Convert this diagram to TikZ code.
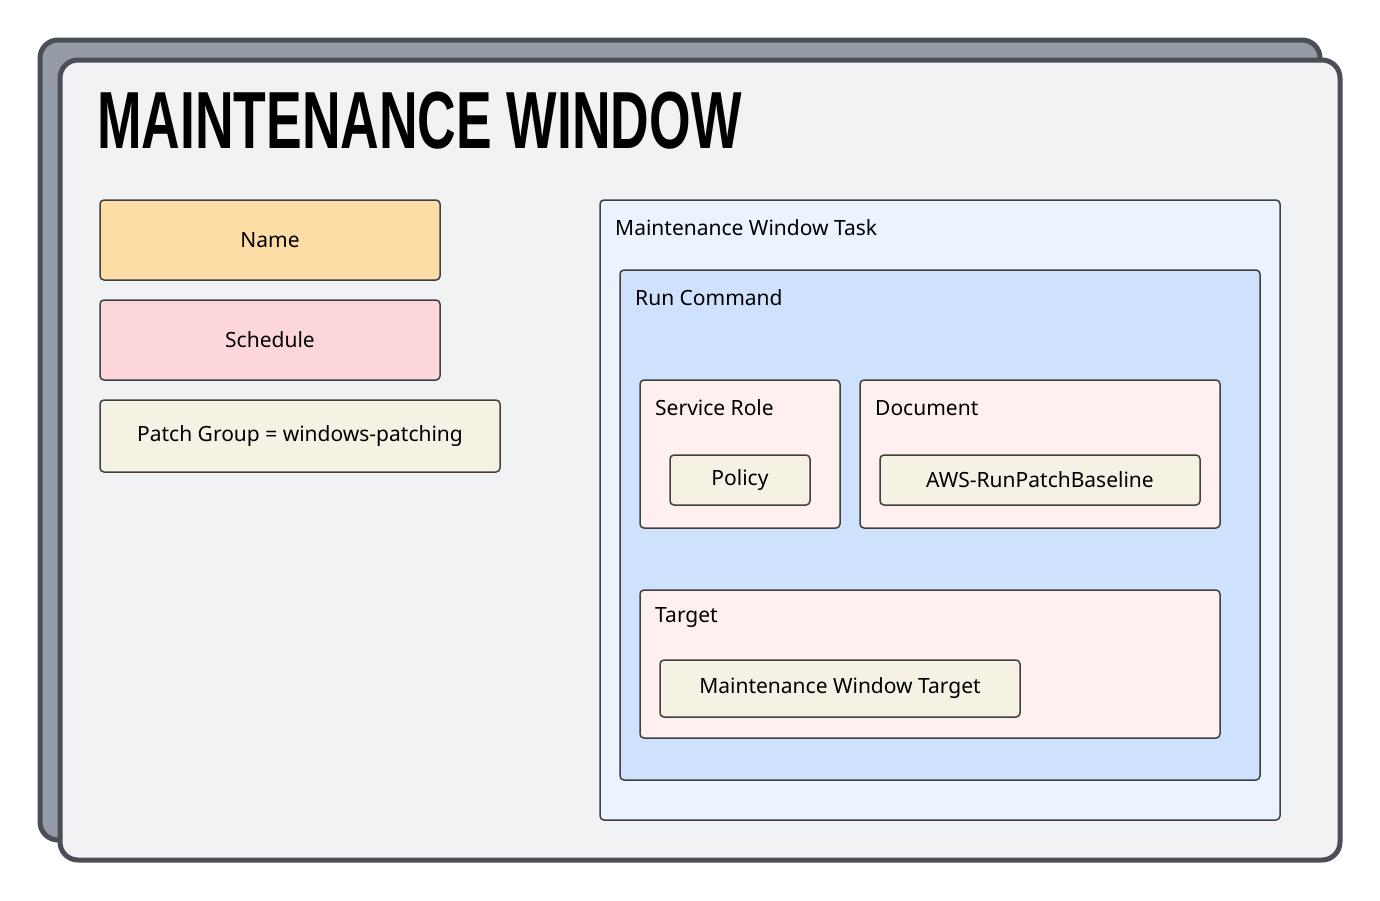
\documentclass[tikz,border=0pt]{standalone}
\usepackage{fontspec}
\setmainfont{Noto Sans}
\newfontfamily\titlefont{Liberation Sans}
\begin{document}
\begin{tikzpicture}[x=1pt,y=-1pt,
  bx/.style={draw=black!75,line width=1.5pt,rounded corners=4pt},
  lbl/.style={anchor=west,font=\fontsize{21}{24}\selectfont,inner sep=0pt},
  ctr/.style={font=\fontsize{21}{24}\selectfont,inner sep=0pt}]
\definecolor{cardback}{HTML}{959BA4}
\definecolor{cardedge}{HTML}{4A4F57}
\definecolor{cardfront}{HTML}{F1F2F4}
\definecolor{cname}{HTML}{FDDCA5}
\definecolor{csched}{HTML}{FDD6DA}
\definecolor{cbeige}{HTML}{F5F2E3}
\definecolor{ctask}{HTML}{EAF3FE}
\definecolor{crun}{HTML}{CFE2FD}
\definecolor{cpink}{HTML}{FDF0EF}
\useasboundingbox (0,0) rectangle (1380,900);
\draw[fill=cardback,draw=cardedge,line width=5pt,rounded corners=18pt] (40,40) rectangle (1320,840);
\draw[fill=cardfront,draw=cardedge,line width=5pt,rounded corners=18pt] (60,60) rectangle (1340,860);
\node[anchor=west,inner sep=0pt] (title) at (97,121) {\titlefont\bfseries\scalebox{0.66}[1]{\fontsize{81}{86}\selectfont MAINTENANCE WINDOW}};
\draw[bx,fill=cname] (100,200) rectangle (440,280) node[midway,ctr] (name) {Name};
\draw[bx,fill=csched] (100,300) rectangle (440,380) node[midway,ctr] (sched) {Schedule};
\draw[bx,fill=cbeige] (100,400) rectangle (500,472) node[midway,ctr] (pg) {Patch Group = windows-patching};
\draw[bx,fill=ctask] (600,200) rectangle (1280,820);
\node[lbl] (task) at (615,228) {Maintenance Window Task};
\draw[bx,fill=crun] (620,270) rectangle (1260,780);
\node[lbl] (run) at (635,298) {Run Command};
\draw[bx,fill=cpink] (640,380) rectangle (840,528);
\node[lbl] (sr) at (655,408) {Service Role};
\draw[bx,fill=cbeige] (670,455) rectangle (810,505) node[midway,ctr] (pol) {Policy};
\draw[bx,fill=cpink] (860,380) rectangle (1220,528);
\node[lbl] (doc) at (875,408) {Document};
\draw[bx,fill=cbeige] (880,455) rectangle (1200,505) node[midway,ctr] (aws) {AWS-RunPatchBaseline};
\draw[bx,fill=cpink] (640,590) rectangle (1220,738);
\node[lbl] (tgt) at (655,618) {Target};
\draw[bx,fill=cbeige] (660,660) rectangle (1020,717) node[midway,ctr] (mwt) {Maintenance Window Target};
\end{tikzpicture}
\end{document}
